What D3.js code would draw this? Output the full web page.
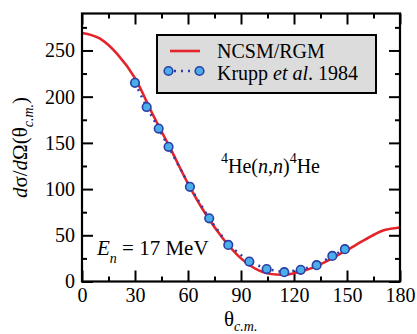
<!DOCTYPE html>
<html>
<head>
<meta charset="utf-8">
<script src="https://cdn.jsdelivr.net/npm/d3@7"></script>
<style>
  body { margin: 0; background: #fff; }
  svg, svg text { font-family: "Liberation Serif", "Times New Roman", serif !important; }
  svg { display: block; }
</style>
</head>
<body>
<svg id="chart"></svg>
<script>
// NCSM/RGM calculation
let curveTheta = [0, 10, 20, 30, 40, 50, 60, 70, 80, 90, 100, 110, 115, 120, 130, 140, 150, 160, 170, 180]
let curveXsec = [269, 263, 246, 220, 181, 144, 106, 73, 46, 25, 12, 7.5, 7.3, 9, 14.5, 23.5, 34, 45, 55, 58.5]

// Krupp et al. 1984 measured points
let expTheta = [30, 36.6, 43.4, 49, 61.1, 72, 82.8, 94.7, 104.5, 114.5, 123.8, 132.8, 141.7, 148.8]
let expXsec = [215, 188.8, 165.5, 145.7, 102.5, 68.4, 39.6, 21.6, 13.4, 10.1, 12.6, 17.7, 27.7, 35]

let xMajor = [0, 30, 60, 90, 120, 150, 180]
let xMinor = [15, 45, 75, 105, 135, 165]
let yMajor = [0, 50, 100, 150, 200, 250]
let yMinor = [25, 75, 125, 175, 225, 275]

let width = 417
let height = 334
let pLeft = 82, pRight = 400, pTop = 13.5, pBottom = 281.5

let red = '#e5232b'
let blueLine = '#2b3fa5'
let blueFill = '#4aaeea'

let svg = d3.select('#chart').attr('width', width).attr('height', height)

let xScale = d3.scaleLinear().domain([0, 180]).range([pLeft, pRight])
let yScale = d3.scaleLinear().domain([0, 290]).range([pBottom, pTop])

let styleAxis = (g) => {
    g.attr('font-family', null)
    g.select('.domain').remove()
    g.selectAll('line').attr('stroke', '#000').attr('stroke-width', 2)
    g.selectAll('text').attr('font-size', 20).attr('fill', '#000')
}

// bottom
svg.append('g').attr('transform', 'translate(0,' + pBottom + ')')
   .call(d3.axisBottom(xScale).tickValues(xMajor).tickSizeInner(-11).tickSizeOuter(0).tickPadding(6))
   .call(styleAxis)
svg.append('g').attr('transform', 'translate(0,' + pBottom + ')')
   .call(d3.axisBottom(xScale).tickValues(xMinor).tickSizeInner(-5).tickSizeOuter(0).tickFormat(''))
   .call(styleAxis)
// top
svg.append('g').attr('transform', 'translate(0,' + pTop + ')')
   .call(d3.axisTop(xScale).tickValues(xMajor).tickSizeInner(-11).tickSizeOuter(0).tickFormat(''))
   .call(styleAxis)
svg.append('g').attr('transform', 'translate(0,' + pTop + ')')
   .call(d3.axisTop(xScale).tickValues(xMinor).tickSizeInner(-5).tickSizeOuter(0).tickFormat(''))
   .call(styleAxis)
// left
svg.append('g').attr('transform', 'translate(' + pLeft + ',0)')
   .call(d3.axisLeft(yScale).tickValues(yMajor).tickSizeInner(-11).tickSizeOuter(0).tickPadding(7))
   .call(styleAxis)
svg.append('g').attr('transform', 'translate(' + pLeft + ',0)')
   .call(d3.axisLeft(yScale).tickValues(yMinor).tickSizeInner(-5).tickSizeOuter(0).tickFormat(''))
   .call(styleAxis)
// right
svg.append('g').attr('transform', 'translate(' + pRight + ',0)')
   .call(d3.axisRight(yScale).tickValues(yMajor).tickSizeInner(-11).tickSizeOuter(0).tickFormat(''))
   .call(styleAxis)
svg.append('g').attr('transform', 'translate(' + pRight + ',0)')
   .call(d3.axisRight(yScale).tickValues(yMinor).tickSizeInner(-5).tickSizeOuter(0).tickFormat(''))
   .call(styleAxis)

// red theory curve
let curveData = curveTheta.map((t, i) => [t, curveXsec[i]])
let line = d3.line().x(d => xScale(d[0])).y(d => yScale(d[1])).curve(d3.curveMonotoneX)
svg.append('path')
   .datum(curveData)
   .attr('d', line)
   .attr('fill', 'none')
   .attr('stroke', red)
   .attr('stroke-width', 2.6)

// dotted data line + circles
let expData = expTheta.map((t, i) => [t, expXsec[i]])
svg.append('path')
   .datum(expData)
   .attr('d', d3.line().x(d => xScale(d[0])).y(d => yScale(d[1])))
   .attr('fill', 'none')
   .attr('stroke', blueLine)
   .attr('stroke-width', 2.5)
   .attr('stroke-dasharray', '2,5')

svg.selectAll('circle.pt')
   .data(expData)
   .enter()
   .append('circle')
   .attr('class', 'pt')
   .attr('cx', d => xScale(d[0]))
   .attr('cy', d => yScale(d[1]))
   .attr('r', 4.3)
   .attr('fill', blueFill)
   .attr('stroke', blueLine)
   .attr('stroke-width', 1.6)

// frame
svg.append('rect')
   .attr('x', pLeft).attr('y', pTop)
   .attr('width', pRight - pLeft).attr('height', pBottom - pTop)
   .attr('fill', 'none').attr('stroke', '#000').attr('stroke-width', 2.2)

// legend
let lg = svg.append('g')
lg.append('rect')
  .attr('x', 157).attr('y', 35).attr('width', 219).attr('height', 58)
  .attr('fill', '#dcdcdc').attr('stroke', '#000').attr('stroke-width', 2)
lg.append('line')
  .attr('x1', 170).attr('x2', 200).attr('y1', 51).attr('y2', 51)
  .attr('stroke', red).attr('stroke-width', 2.6)
lg.append('line')
  .attr('x1', 168).attr('x2', 200).attr('y1', 71).attr('y2', 71)
  .attr('stroke', blueLine).attr('stroke-width', 2.5).attr('stroke-dasharray', '2,5')
  .attr('stroke-dashoffset', -6)
;[168.5, 199.5].forEach(cx => {
    lg.append('circle').attr('cx', cx).attr('cy', 71).attr('r', 4.3)
      .attr('fill', blueFill).attr('stroke', blueLine).attr('stroke-width', 1.6)
})
lg.append('text').attr('x', 217).attr('y', 58).attr('font-size', 20).text('NCSM/RGM')
let t2 = lg.append('text').attr('x', 217).attr('y', 80).attr('font-size', 20)
t2.append('tspan').text('Krupp ')
t2.append('tspan').attr('font-style', 'italic').text('et al')
t2.append('tspan').text('. 1984')

// reaction label
let rx = svg.append('text').attr('x', 221).attr('y', 173).attr('font-size', 20)
rx.append('tspan').attr('font-size', 14).attr('dy', -10).text('4')
rx.append('tspan').attr('dy', 10).text('He(')
rx.append('tspan').attr('font-style', 'italic').text('n')
rx.append('tspan').text(',')
rx.append('tspan').attr('font-style', 'italic').text('n')
rx.append('tspan').text(')')
rx.append('tspan').attr('font-size', 14).attr('dy', -10).text('4')
rx.append('tspan').attr('dy', 10).text('He')

// energy label
let en = svg.append('text').attr('x', 97).attr('y', 255).attr('font-size', 21)
en.append('tspan').attr('font-style', 'italic').text('E')
en.append('tspan').attr('font-style', 'italic').attr('font-size', 14).attr('dy', 8).text('n')
en.append('tspan').attr('dy', -8).text(' = 17 MeV')

// x axis title
let xt = svg.append('text').attr('x', 224).attr('y', 326).attr('font-size', 21)
xt.append('tspan').text('θ')
xt.append('tspan').attr('font-style', 'italic').attr('font-size', 14).attr('dy', 5).text('c.m.')

// y axis title
let yt = svg.append('text')
  .attr('transform', 'translate(27,' + ((pTop + pBottom) / 2) + ') rotate(-90)')
  .attr('text-anchor', 'middle').attr('font-size', 21)
yt.append('tspan').attr('font-style', 'italic').text('d')
yt.append('tspan').text('σ/')
yt.append('tspan').attr('font-style', 'italic').text('d')
yt.append('tspan').text('Ω(θ')
yt.append('tspan').attr('font-style', 'italic').attr('font-size', 14).attr('dy', 6).text('c.m.')
yt.append('tspan').attr('dy', -6).text(')')
</script>
</body>
</html>
